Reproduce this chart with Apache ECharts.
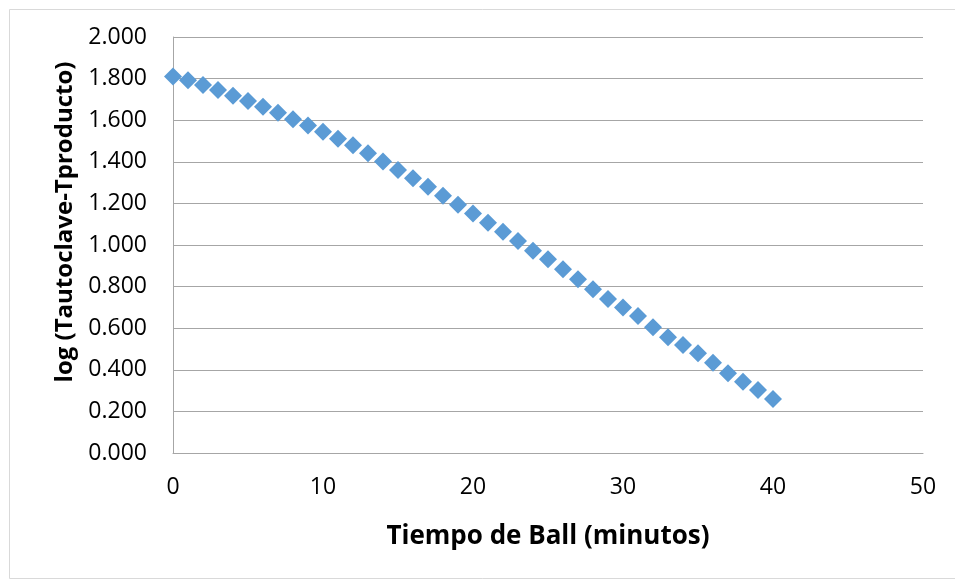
<!DOCTYPE html>
<html>
<head>
<meta charset="utf-8">
<style>
  html, body { margin: 0; padding: 0; background: #ffffff; }
  #chart { width: 955px; height: 579px; }
</style>
<script src="https://cdn.jsdelivr.net/npm/echarts@6/dist/echarts.min.js"></script>
</head>
<body>
<div id="chart"></div>
<script>
// Ball heating time (minutes) and log of the autoclave-product temperature difference
const minutes = [0, 1, 2, 3, 4, 5, 6, 7, 8, 9, 10, 11, 12, 13, 14, 15, 16, 17, 18, 19, 20,
                 21, 22, 23, 24, 25, 26, 27, 28, 29, 30, 31, 32, 33, 34, 35, 36, 37, 38, 39, 40];
const logDiff = [1.810, 1.792, 1.769, 1.745, 1.718, 1.692, 1.665, 1.636, 1.604, 1.574, 1.545,
                 1.511, 1.479, 1.441, 1.401, 1.361, 1.321, 1.280, 1.237, 1.194, 1.151,
                 1.107, 1.064, 1.019, 0.972, 0.931, 0.883, 0.835, 0.787, 0.740, 0.700,
                 0.659, 0.604, 0.556, 0.519, 0.479, 0.434, 0.383, 0.343, 0.303, 0.260];

const xTitle = 'Tiempo de Ball (minutos)';
const yTitle = 'log (Tautoclave-Tproducto)';

const points = minutes.map((m, i) => [m, logDiff[i]]);
const FONT = '"Open Sans", "Noto Sans", sans-serif';

const chart = echarts.init(document.getElementById('chart'), null, { renderer: 'canvas' });
chart.setOption({
  animation: false,
  backgroundColor: '#ffffff',
  grid: { left: 173, right: 32, top: 37, bottom: 126, containLabel: false },
  graphic: [{
    type: 'rect',
    left: 7, top: 7,
    shape: { width: 960, height: 569 },
    style: { fill: 'none', stroke: '#d9d9d9', lineWidth: 1 },
    silent: true,
    z: -10
  }],
  xAxis: {
    type: 'value',
    min: 0, max: 50, interval: 10,
    name: xTitle,
    nameLocation: 'middle',
    nameGap: 71,
    nameTextStyle: { fontFamily: FONT, fontSize: 26, fontWeight: 'bold', color: '#000000' },
    axisLine: { show: true, lineStyle: { color: '#a6a6a6', width: 1 } },
    axisTick: { show: false },
    splitLine: { show: false },
    axisLabel: { fontFamily: FONT, fontSize: 23, color: '#000000', margin: 23 }
  },
  yAxis: {
    type: 'value',
    min: 0, max: 2, interval: 0.2,
    name: yTitle,
    nameLocation: 'middle',
    nameGap: 94,
    nameRotate: 90,
    nameTextStyle: { fontFamily: FONT, fontSize: 24, fontWeight: 'bold', color: '#000000', padding: [0, 0, 0, 46] },
    axisLine: { show: true, lineStyle: { color: '#a6a6a6', width: 1 } },
    axisTick: { show: false },
    splitLine: { show: true, lineStyle: { color: '#a6a6a6', width: 1 } },
    axisLabel: {
      fontFamily: FONT, fontSize: 23, color: '#000000', margin: 26,
      formatter: v => v.toFixed(3)
    }
  },
  series: [{
    type: 'scatter',
    data: points,
    symbol: 'diamond',
    symbolSize: 18,
    itemStyle: { color: '#5b9bd5', opacity: 1 }
  }]
});
</script>
</body>
</html>
